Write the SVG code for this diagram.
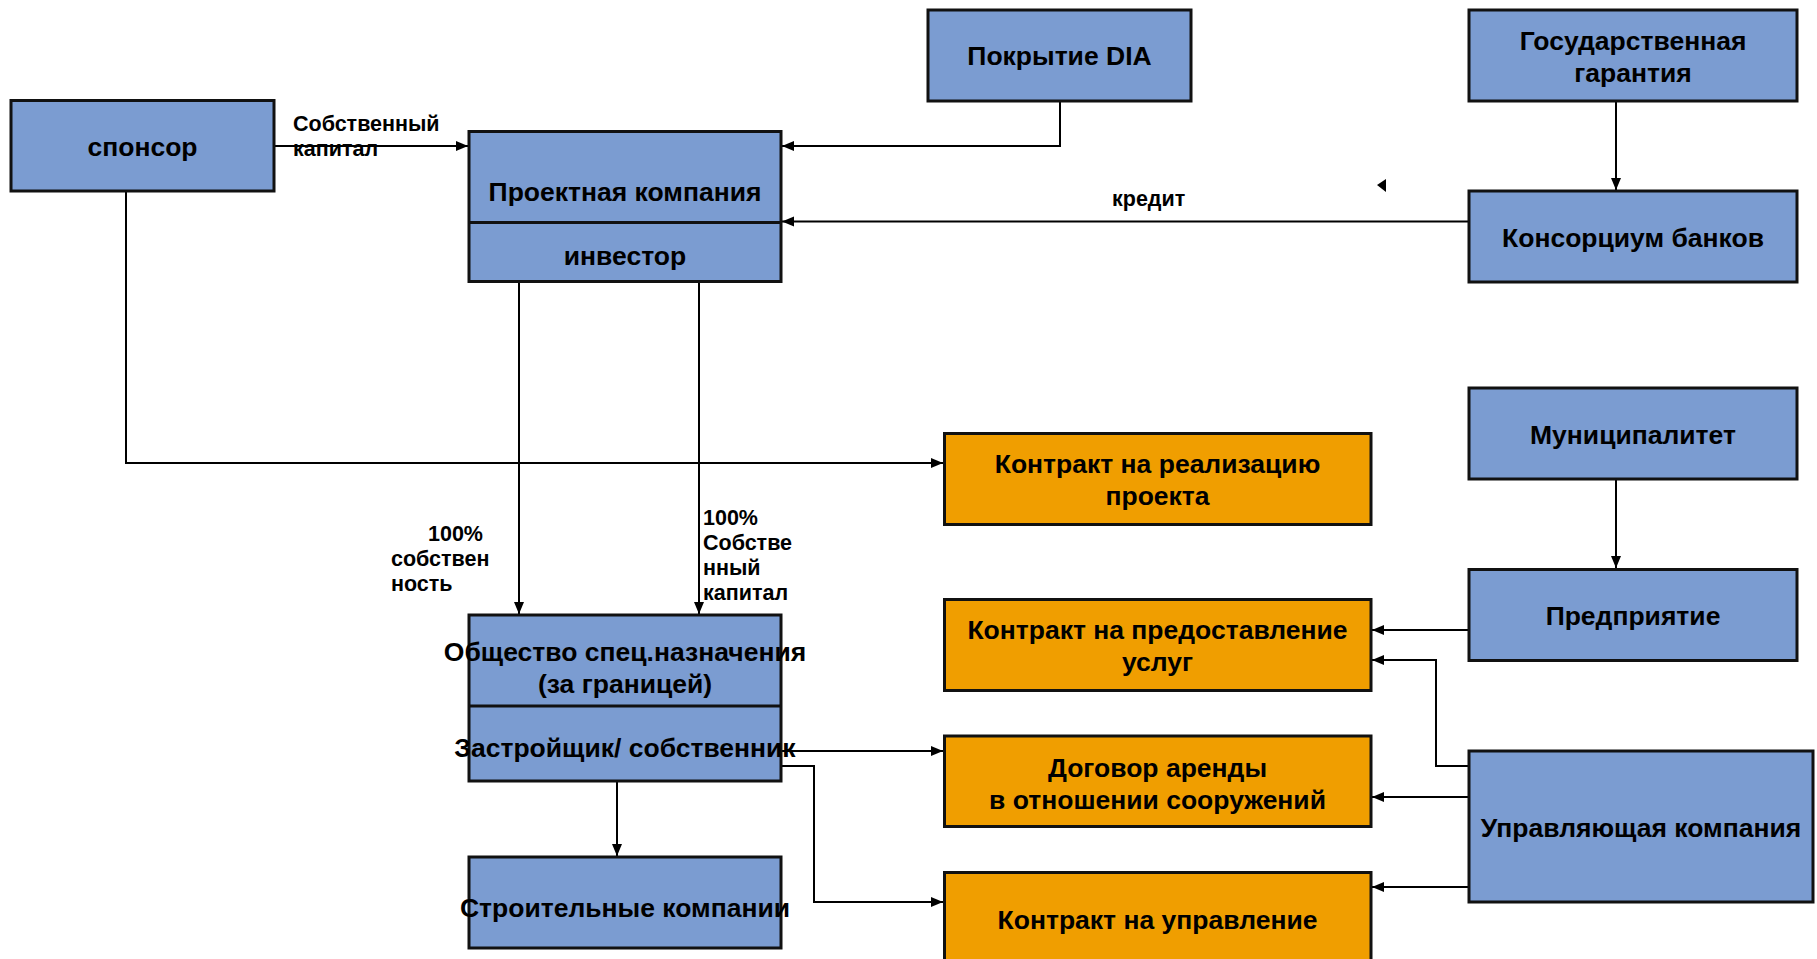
<svg xmlns="http://www.w3.org/2000/svg" width="1817" height="959" viewBox="0 0 1817 959">
<style>
.b{fill:#7B9CD1;stroke:#111;stroke-width:3}
.o{fill:#F09E00;stroke:#111;stroke-width:3}
.dv{stroke:#111;stroke-width:3;fill:none}
.t{font-family:"Liberation Sans",Arial,sans-serif;font-weight:bold;font-size:26.5px;fill:#000;text-anchor:middle}
.s{font-family:"Liberation Sans",Arial,sans-serif;font-weight:bold;font-size:21.5px;fill:#000}
.c{fill:none;stroke:#000;stroke-width:2;marker-end:url(#ah)}
</style>
<defs>
<marker id="ah" markerUnits="userSpaceOnUse" markerWidth="12" markerHeight="12" viewBox="0 0 12 12" refX="12" refY="6" orient="auto">
<path d="M0,1 L12,6 L0,11 Z" fill="#000"/>
</marker>
</defs>
<rect width="1817" height="959" fill="#fff"/>
<g id="connectors">
<path class="c" d="M274 146 H468"/>
<path class="c" d="M1060 101 V146 H782"/>
<path class="c" d="M1469 221.5 H782"/>
<path class="c" d="M1616 101 V190"/>
<path class="c" d="M126 191 V463 H943"/>
<path class="c" d="M519 282 V614"/>
<path class="c" d="M699 282 V614"/>
<path class="c" d="M617 781 V856"/>
<path class="c" d="M781 751 H943"/>
<path class="c" d="M781 766 H814 V902 H943"/>
<path class="c" d="M1616 479 V568"/>
<path class="c" d="M1469 630 H1372"/>
<path class="c" d="M1469 766 H1436 V660 H1372"/>
<path class="c" d="M1469 797 H1372"/>
<path class="c" d="M1469 887 H1372"/>
<polygon points="1377,185 1386,179 1386,192" fill="#000"/>
</g>
<g id="sponsor">
<rect class="b" x="11" y="100.5" width="263" height="90.5"/>
<text class="t" x="142.5" y="156">спонсор</text>
</g>
<g id="project-company">
<rect class="b" x="469" y="131.5" width="312" height="150"/>
<line class="dv" x1="469" y1="222.5" x2="781" y2="222.5"/>
<text class="t" x="625" y="201">Проектная компания</text>
<text class="t" x="625" y="265">инвестор</text>
</g>
<g id="dia">
<rect class="b" x="928" y="10" width="263" height="91"/>
<text class="t" x="1059.5" y="65">Покрытие DIA</text>
</g>
<g id="state-guarantee">
<rect class="b" x="1469" y="10" width="328" height="91"/>
<text class="t" x="1633" y="50">Государственная</text>
<text class="t" x="1633" y="82">гарантия</text>
</g>
<g id="bank-consortium">
<rect class="b" x="1469" y="191" width="328" height="91"/>
<text class="t" x="1633" y="247">Консорциум банков</text>
</g>
<g id="municipality">
<rect class="b" x="1469" y="388" width="328" height="91"/>
<text class="t" x="1633" y="444">Муниципалитет</text>
</g>
<g id="enterprise">
<rect class="b" x="1469" y="569.5" width="328" height="91"/>
<text class="t" x="1633" y="625">Предприятие</text>
</g>
<g id="management-company">
<rect class="b" x="1469" y="751" width="344" height="151"/>
<text class="t" x="1641" y="837">Управляющая компания</text>
</g>
<g id="contract-implementation">
<rect class="o" x="944.5" y="433.5" width="426.5" height="91"/>
<text class="t" x="1157.5" y="473">Контракт на реализацию</text>
<text class="t" x="1157.5" y="505">проекта</text>
</g>
<g id="contract-services">
<rect class="o" x="944.5" y="599.5" width="426.5" height="91"/>
<text class="t" x="1157.5" y="639">Контракт на предоставление</text>
<text class="t" x="1157.5" y="671">услуг</text>
</g>
<g id="lease-agreement">
<rect class="o" x="944.5" y="736" width="426.5" height="90.5"/>
<text class="t" x="1157.5" y="777">Договор аренды</text>
<text class="t" x="1157.5" y="809">в отношении сооружений</text>
</g>
<g id="management-contract">
<rect class="o" x="944.5" y="872.5" width="426.5" height="92"/>
<text class="t" x="1157.5" y="929">Контракт на управление</text>
</g>
<g id="spv">
<rect class="b" x="469" y="615" width="312" height="166"/>
<line class="dv" x1="469" y1="706" x2="781" y2="706"/>
<text class="t" x="625" y="661">Общество спец.назначения</text>
<text class="t" x="625" y="693">(за границей)</text>
<text class="t" x="625" y="757">Застройщик/ собственник</text>
</g>
<g id="construction-companies">
<rect class="b" x="469" y="857" width="312" height="91"/>
<text class="t" x="625" y="917">Строительные компании</text>
</g>
<g id="labels">
<text class="s" x="293" y="131">Собственный</text>
<text class="s" x="293" y="156">капитал</text>
<text class="s" x="1112" y="206">кредит</text>
<text class="s" x="428" y="541">100%</text>
<text class="s" x="391" y="566">собствен</text>
<text class="s" x="391" y="591">ность</text>
<text class="s" x="703" y="525">100%</text>
<text class="s" x="703" y="550">Собстве</text>
<text class="s" x="703" y="575">нный</text>
<text class="s" x="703" y="600">капитал</text>
</g>
</svg>
